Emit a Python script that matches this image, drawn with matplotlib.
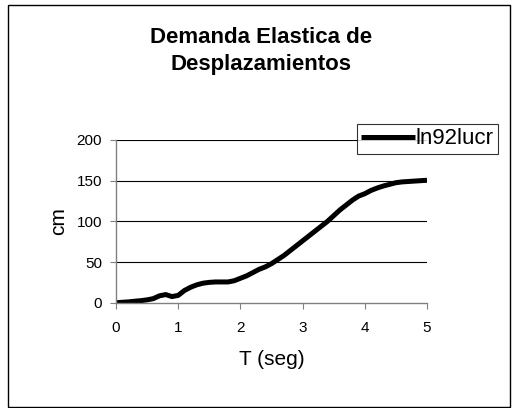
import matplotlib
matplotlib.use("Agg")
import matplotlib.pyplot as plt
from matplotlib.patches import Rectangle

plt.rcParams['font.family'] = ['Liberation Sans', 'DejaVu Sans']

T = [0.0, 0.1, 0.2, 0.3, 0.4, 0.5, 0.6, 0.7, 0.8, 0.9,
     1.0, 1.1, 1.2, 1.3, 1.4, 1.5, 1.6, 1.7, 1.8, 1.9,
     2.0, 2.1, 2.2, 2.3, 2.4, 2.5, 2.6, 2.7, 2.8, 2.9,
     3.0, 3.1, 3.2, 3.3, 3.4, 3.5, 3.6, 3.7, 3.8, 3.9,
     4.0, 4.1, 4.2, 4.3, 4.4, 4.5, 4.6, 4.7, 4.8, 4.9, 5.0]
ln92lucr = [0, 0.5, 1, 1.8, 2.5, 3.5, 5, 8.5, 10, 7.5,
            9, 15, 19, 22, 24, 25, 25.5, 25.5, 25.5, 27,
            30, 33, 37, 41, 44, 48, 53, 58, 64, 70,
            76, 82, 88, 94, 100, 107, 114, 120, 126, 131,
            134, 138, 141, 143.5, 145.5, 147.5, 148.5, 149, 149.5, 150, 150.5]
xticks = [0, 1, 2, 3, 4, 5]
yticks = [0, 50, 100, 150, 200]

fig = plt.figure(figsize=(5.12, 4.08), dpi=100)
fig.patches.append(Rectangle((8/512, 1-407/408), 502/512, 402/408, transform=fig.transFigure,
                             fill=False, edgecolor='black', linewidth=1.0))
ax = fig.add_axes([116/512, 1-302.7/408, (427-116)/512, (302.7-140)/408])
line, = ax.plot(T, ln92lucr, color='black', linewidth=3.6, solid_capstyle='butt', label='ln92lucr')
ax.set_xlim(0, 5)
ax.set_ylim(0, 200)
ax.set_xticks(xticks)
ax.set_yticks(yticks)
for y in yticks[1:]:
    ax.axhline(y, color='black', linewidth=0.8, zorder=0)
for s in ['top', 'right']:
    ax.spines[s].set_visible(False)
for s in ['left', 'bottom']:
    ax.spines[s].set_color('#808080')
    ax.spines[s].set_linewidth(1.0)
ax.tick_params(axis='both', direction='out', length=4, color='#808080', labelsize=11, pad=6)
ax.tick_params(axis='x', pad=9)
ax.set_xlabel('T (seg)', fontsize=15, labelpad=11)
ax.set_ylabel('cm', fontsize=15, labelpad=6)
fig.text(261/512, 1-43/408, 'Demanda Elastica de', ha='center', va='baseline',
         fontsize=16, fontweight='bold')
fig.text(261/512, 1-70/408, 'Desplazamientos', ha='center', va='baseline',
         fontsize=16, fontweight='bold')
leg = fig.legend(handles=[line], loc='upper left', bbox_to_anchor=(357/512, 1-124/408),
                 frameon=True, fancybox=False, fontsize=16, handlelength=2.4,
                 borderpad=0.2, handletextpad=0.05, borderaxespad=0)
leg.get_frame().set_edgecolor('black')
leg.get_frame().set_linewidth(0.8)
fig.savefig('out.png', dpi=100)
